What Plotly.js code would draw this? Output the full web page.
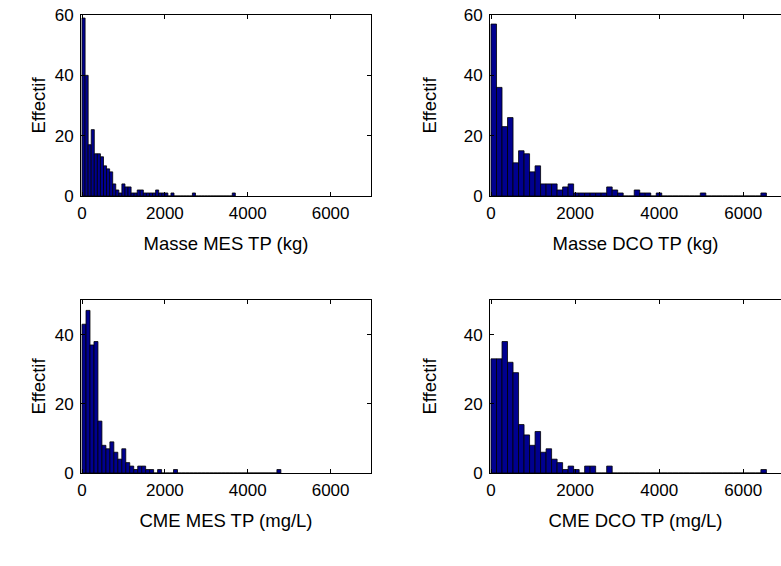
<!DOCTYPE html>
<html>
<head>
<meta charset="utf-8">
<script src="https://cdn.plot.ly/plotly-3.0.1.min.js"></script>
<style>html,body{margin:0;padding:0;background:#fff;}#chart{width:781px;height:566px;}</style>
</head>
<body>
<div id="chart"></div>
<script>
// Histogram bin widths (units of each x axis)
const binWidthMesMasse = 74;
const binWidthDcoMasse = 131;
const binWidthMesCme = 96;
const binWidthDcoCme = 131;

// Counts per bin (Effectif), 50 bins each
const countsMesMasse = [59,40,17,22,14,14,13,10,9,8, 4,2,1,4,3,3,1,1,2,2, 1,1,1,1,2,1,1,1,0,1, 0,0,0,0,0,0,1,0,0,0, 0,0,0,0,0,0,0,0,0,1];
const countsDcoMasse = [57,36,23,26,11,15,14,8,10,4, 4,4,2,3,4,1,1,1,1,1, 1,3,2,1,0,0,2,1,1,0, 1,0,0,0,0,0,0,0,1,0, 0,0,0,0,0,0,0,0,0,1];
const countsMesCme   = [43,47,37,38,15,8,7,9,6,4, 7,3,2,1,2,2,1,1,0,1, 0,0,0,1,0,0,0,0,0,0, 0,0,0,0,0,0,0,0,0,0, 0,0,0,0,0,0,0,0,0,1];
const countsDcoCme   = [33,33,38,32,29,14,11,8,12,6, 7,4,3,1,2,1,0,2,2,0, 0,2,0,0,0,0,0,0,0,0, 0,0,0,0,0,0,0,0,0,0, 0,0,0,0,0,0,0,0,0,1];

const xTitles = ["Masse MES TP (kg)", "Masse DCO TP (kg)", "CME MES TP (mg/L)", "CME DCO TP (mg/L)"];
const yTitle = "Effectif";
const xTicks = [0, 2000, 4000, 6000];
const yTicksTop = [0, 20, 40, 60];
const yTicksBottom = [0, 20, 40];

function centers(counts, w) { return counts.map((_, i) => (i + 0.5) * w); }

const panels = [
  {counts: countsMesMasse, w: binWidthMesMasse},
  {counts: countsDcoMasse, w: binWidthDcoMasse},
  {counts: countsMesCme, w: binWidthMesCme},
  {counts: countsDcoCme, w: binWidthDcoCme}
];

const traces = panels.map((p, i) => ({
  type: 'bar',
  x: centers(p.counts, p.w),
  y: p.counts,
  width: p.w,
  xaxis: i === 0 ? 'x' : 'x' + (i + 1),
  yaxis: i === 0 ? 'y' : 'y' + (i + 1),
  marker: {color: '#00008F', line: {color: '#000000', width: 0.8}},
  showlegend: false,
  hoverinfo: 'x+y'
}));

const W = 781, H = 566;
const tickFont = {family: 'Liberation Sans, Arial, sans-serif', size: 17, color: '#000'};
const titleFont = {family: 'Liberation Sans, Arial, sans-serif', size: 18.5, color: '#000'};
const colDom = [[81 / W, 371 / W], [490 / W, 1]];
const rowDom = [[1 - 196 / H, 1 - 15 / H], [1 - 473 / H, 1 - 300 / H]];
const colRange = [[-25, 6975], [-24, 6897]];
const yStandoff = [4, 22];

function xax(i) {
  const c = i % 2;
  return {
    domain: colDom[c], range: colRange[c], anchor: i === 0 ? 'y' : 'y' + (i + 1),
    tickvals: xTicks, ticktext: xTicks.map(String),
    ticks: 'inside', ticklen: 4, tickcolor: '#000', tickwidth: 1,
    showline: true, linecolor: '#000', linewidth: 1, mirror: 'ticks',
    showgrid: false, zeroline: false, tickfont: tickFont, ticklabelstandoff: 2,
    title: {text: xTitles[i], font: titleFont, standoff: 14}
  };
}
function yax(i) {
  const c = i % 2, r = Math.floor(i / 2);
  const tv = r === 0 ? yTicksTop : yTicksBottom;
  return {
    domain: rowDom[r], range: r === 0 ? [0, 60] : [0, 50], anchor: i === 0 ? 'x' : 'x' + (i + 1),
    tickvals: tv, ticktext: tv.map(String),
    ticks: 'inside', ticklen: 4, tickcolor: '#000', tickwidth: 1,
    showline: true, linecolor: '#000', linewidth: 1, mirror: c === 0 ? 'ticks' : false,
    showgrid: false, zeroline: false, tickfont: tickFont, ticklabelstandoff: 3,
    title: {text: yTitle, font: titleFont, standoff: yStandoff[c]}
  };
}

const layout = {
  width: W, height: H,
  margin: {l: 0, r: 0, t: 0, b: 0},
  paper_bgcolor: '#fff', plot_bgcolor: '#fff',
  bargap: 0, showlegend: false
};
for (let i = 0; i < 4; i++) {
  const s = i === 0 ? '' : String(i + 1);
  layout['xaxis' + s] = xax(i);
  layout['yaxis' + s] = yax(i);
}

Plotly.newPlot('chart', traces, layout, {displayModeBar: false, staticPlot: true});
</script>
</body>
</html>
